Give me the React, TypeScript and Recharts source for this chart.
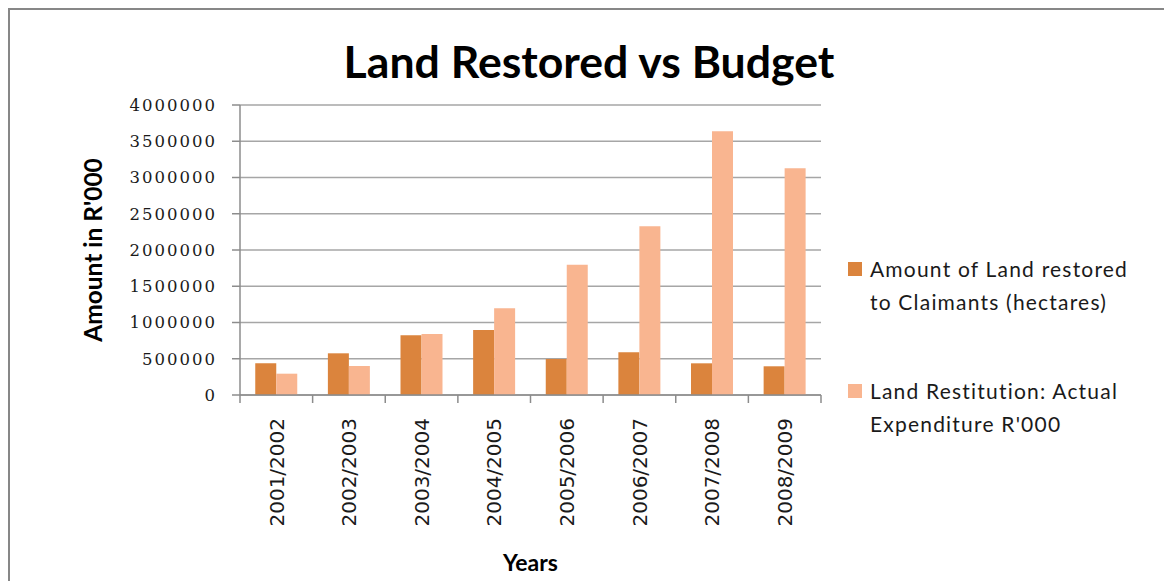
import { BarChart, Bar, XAxis, YAxis, CartesianGrid } from "recharts";

// data
const years = [
  "2001/2002",
  "2002/2003",
  "2003/2004",
  "2004/2005",
  "2005/2006",
  "2006/2007",
  "2007/2008",
  "2008/2009"
];
const landRestored = [437000, 575000, 823000, 897000, 497000, 589000, 437000, 396000];
const expenditure = [294000, 400000, 841000, 1196000, 1797000, 2327000, 3637000, 3127000];
const yTicks = [0, 500000, 1000000, 1500000, 2000000, 2500000, 3000000, 3500000, 4000000];

const seriesNames = [
  "Amount of Land restored to Claimants (hectares)",
  "Land Restitution: Actual Expenditure R'000"
];

const dark = "#db843d";
const light = "#f9b590";
const seriesColors = [dark, light];
const gridGray = "#a6a6a6";
const axisGray = "#8c8c8c";

const data = years.map((y, i) => ({
  year: y,
  land: landRestored[i],
  spend: expenditure[i]
}));

// plot box
const W = 1164;
const H = 581;
const plotLeft = 240;
const plotRight = 821;
const plotTop = 105;
const plotBottom = 395;
const band = (plotRight - plotLeft) / years.length;

const YearTick = (props: any) => {
  const { x, y, payload, index } = props;
  const left = x - band / 2;
  return (
    <g>
      <line x1={left} y1={y} x2={left} y2={y + 8} stroke={axisGray} strokeWidth={1.5} />
      {index === years.length - 1 && (
        <line x1={x + band / 2} y1={y} x2={x + band / 2} y2={y + 8} stroke={axisGray} strokeWidth={1.5} />
      )}
      <g transform={`translate(${x},${y})`}>
        <text
          transform="rotate(-90)"
          x={-23}
          y={0}
          dy="0.36em"
          textAnchor="end"
          fill="#1a1a1a"
          style={{ fontFamily: "DejaVu Sans", fontSize: 20 }}
        >
          {payload.value}
        </text>
      </g>
    </g>
  );
};

export default function App() {
  return (
    <div
      style={{
        position: "fixed",
        left: 0,
        top: 0,
        width: W,
        height: H,
        overflow: "hidden",
        background: "#fff"
      }}
    >
      {/* chart frame, runs off the right and bottom */}
      <div
        style={{
          position: "absolute",
          left: 8,
          top: 8,
          width: 1180,
          height: 600,
          border: "2px solid #878787"
        }}
      />
      <div
        style={{
          position: "absolute",
          left: 0,
          width: 1178,
          top: 35,
          textAlign: "center",
          fontFamily: "Lato",
          fontWeight: 700,
          fontSize: 44.6,
          lineHeight: "52px",
          color: "#000"
        }}
      >
        Land Restored vs Budget
      </div>
      <div style={{ position: "absolute", left: 0, top: 0 }}>
        <BarChart
          width={W}
          height={H}
          data={data}
          margin={{ top: plotTop, right: W - plotRight, bottom: 0, left: 0 }}
          barCategoryGap="21%"
          barGap={0}
        >
          <CartesianGrid vertical={false} stroke={gridGray} strokeWidth={1.5} />
          <XAxis
            dataKey="year"
            height={H - plotBottom}
            stroke={axisGray}
            strokeWidth={1.5}
            tickLine={false}
            tickSize={0}
            tickMargin={0}
            interval={0}
            tick={<YearTick />}
            label={{
              value: "Years",
              position: "insideBottom",
              offset: 10,
              style: { fontFamily: "Lato", fontWeight: 700, fontSize: 23, fill: "#000" }
            }}
          />
          <YAxis
            width={plotLeft}
            domain={[0, 4000000]}
            ticks={yTicks}
            interval={0}
            stroke={axisGray}
            strokeWidth={1.5}
            tickSize={8}
            tickMargin={15}
            tick={{ fontFamily: "DejaVu Serif", fontSize: 16.5, fill: "#1a1a1a", letterSpacing: 2 }}
            label={{
              value: "Amount in R'000",
              angle: -90,
              position: "insideLeft",
              offset: 93,
              style: { fontFamily: "Lato", fontWeight: 700, fontSize: 24.5, fill: "#000", textAnchor: "middle" }
            }}
          />
          <Bar dataKey="land" name={seriesNames[0]} fill={dark} isAnimationActive={false} />
          <Bar dataKey="spend" name={seriesNames[1]} fill={light} isAnimationActive={false} />
        </BarChart>
      </div>
      {/* legend */}
      <div
        style={{
          position: "absolute",
          left: 848,
          top: 252,
          width: 310,
          fontFamily: "Lato",
          fontSize: 21,
          letterSpacing: 1.2,
          color: "#1a1a1a"
        }}
      >
        {seriesNames.map((name, i) => (
          <div key={name} style={{ display: "flex", alignItems: "flex-start", marginBottom: i === 0 ? 56 : 0 }}>
            <div style={{ width: 14, height: 14, background: seriesColors[i], marginTop: 10, marginRight: 8, flexShrink: 0 }} />
            <div style={{ width: 272, lineHeight: "33px" }}>{name}</div>
          </div>
        ))}
      </div>
    </div>
  );
}
